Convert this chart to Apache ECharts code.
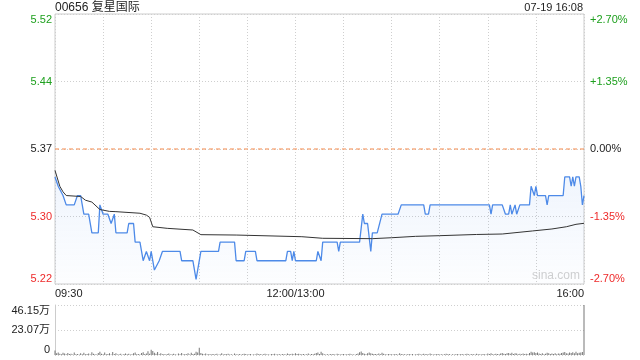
<!DOCTYPE html>
<html>
<head>
<meta charset="utf-8">
<script src="https://cdn.jsdelivr.net/npm/echarts@6/dist/echarts.min.js"></script>
<style>
html,body{margin:0;padding:0;background:#fff;}
#c{width:640px;height:360px;}
</style>
</head>
<body>
<div id="c"></div>
<script>
// ---- data ----
const titleText = '00656 复星国际';
const stampText = '07-19 16:08';
const prevClose = 5.37;

// minute index (0 = 09:30, 150 = 12:00/13:00, 330 = 16:00) and price
const priceMinute = [0,2,5,7,12,14,16,18,21,23,27,28,30,33,35,36,37,38,45,46,49,50,53,54,55,57,59,60,62,65,67,78,79,86,88,89,91,102,103,112,113,118,119,125,126,144,145,147,148,149,150,163,164,165,166,167,176,177,178,190,192,193,195,197,198,201,204,214,216,230,231,233,234,271,272,273,279,281,283,284,285,287,288,290,296,297,299,300,301,306,307,308,317,318,321,322,323,324,325,327,328,329,330];
const priceValue  = [5.34,5.33,5.32,5.31,5.31,5.32,5.32,5.30,5.30,5.28,5.28,5.31,5.30,5.30,5.29,5.29,5.30,5.28,5.28,5.29,5.29,5.27,5.27,5.26,5.25,5.26,5.25,5.26,5.24,5.25,5.26,5.26,5.25,5.25,5.23,5.23,5.26,5.26,5.27,5.27,5.25,5.25,5.26,5.26,5.25,5.25,5.26,5.26,5.25,5.26,5.25,5.25,5.26,5.26,5.25,5.27,5.27,5.26,5.27,5.27,5.30,5.29,5.29,5.26,5.28,5.28,5.30,5.30,5.31,5.31,5.30,5.30,5.31,5.31,5.30,5.31,5.31,5.30,5.30,5.31,5.30,5.31,5.30,5.31,5.31,5.33,5.32,5.33,5.32,5.32,5.31,5.32,5.32,5.34,5.34,5.33,5.34,5.33,5.34,5.34,5.33,5.31,5.32];

const avgMinute = [0,1,3,5,7,16,19,23,28,34,38,53,57,59,61,70,86,91,113,114,154,155,167,198,210,225,240,263,279,298,310,319,325,330];
const avgValue  = [5.347,5.345,5.330,5.324,5.320,5.319,5.315,5.313,5.305,5.303,5.3027,5.301,5.299,5.2966,5.2865,5.2848,5.283,5.278,5.2776,5.2762,5.2758,5.2747,5.2741,5.2737,5.2747,5.2762,5.2769,5.2782,5.2787,5.282,5.2841,5.2865,5.2891,5.2902];

// session span for the previous-close reference line
const sessionMinutes = [0, 330];

// volume per minute, in 万 shares (index 0..330)
const volume = [
4.2,1.5,2.3,1.1,0.8,2.0,1.4,0.6,1.8,0.9,
1.2,0.5,2.4,0.7,1.0,0.4,1.6,0.8,2.1,0.6,
0.9,1.3,0.5,2.6,1.1,0.7,0.4,1.9,3.1,1.2,
0.8,2.2,0.6,1.0,1.7,0.5,2.8,0.9,1.5,0.4,
0.7,1.1,0.3,0.9,1.4,0.6,1.2,0.5,0.8,1.6,
2.3,0.7,1.0,0.4,1.8,2.5,0.9,1.3,3.4,1.1,
4.8,3.6,2.0,1.2,2.7,0.8,1.5,0.6,1.0,0.5,
0.9,1.3,0.4,0.8,1.1,0.6,0.3,1.4,0.7,1.9,
0.5,1.0,0.8,1.6,0.4,2.1,0.9,1.2,3.0,2.2,
6.6,1.8,1.1,0.7,1.3,0.5,0.9,0.4,1.0,0.6,
0.8,1.2,0.3,0.7,1.5,0.4,0.9,0.6,1.1,0.5,
0.7,0.3,1.3,0.8,0.5,1.0,0.4,0.6,1.2,0.9,
0.4,0.7,1.0,0.3,0.8,0.5,1.4,0.6,0.9,0.4,
0.6,1.1,0.5,0.8,0.3,0.9,0.7,1.2,0.4,0.6,
0.8,0.5,1.0,0.7,0.4,1.3,0.9,0.6,1.1,0.8,
1.5,0.9,1.2,0.6,0.8,1.0,0.5,0.7,1.3,0.4,
0.9,0.6,1.1,1.8,2.4,1.0,2.9,1.6,0.7,0.5,
0.8,0.4,1.0,0.6,0.9,0.3,1.2,0.7,0.5,0.8,
1.0,0.4,0.7,0.6,1.1,0.5,0.8,0.3,0.9,1.4,
2.6,3.2,1.9,1.1,0.8,1.5,2.3,1.7,1.2,0.9,
1.0,0.6,1.4,0.8,2.0,1.1,0.7,0.5,0.9,0.6,
0.8,0.4,1.0,0.7,0.5,1.6,0.9,0.6,0.8,0.4,
0.7,1.0,0.5,0.9,0.3,0.8,0.6,1.1,0.4,0.7,
1.2,0.6,0.9,0.5,1.3,0.7,0.4,0.8,0.6,1.0,
0.5,0.8,0.4,0.7,1.1,0.6,0.9,0.3,0.8,0.5,
0.7,1.0,0.4,0.6,0.9,0.5,0.8,1.2,0.6,0.4,
0.9,0.7,0.5,1.1,0.6,0.8,0.4,1.0,0.7,0.5,
1.4,1.0,1.6,0.8,0.6,1.2,0.9,0.7,1.3,1.8,
1.1,0.9,1.5,1.9,1.2,2.0,1.0,1.7,1.3,0.8,
1.1,0.7,1.4,0.9,1.2,0.6,1.8,3.0,2.2,2.6,
1.9,2.4,1.3,1.0,1.6,0.8,1.2,2.1,1.5,0.9,
1.3,1.0,1.7,0.8,1.4,1.1,1.9,2.3,2.8,1.6,
1.4,2.2,1.8,2.5,1.7,2.9,1.5,2.0,2.4,2.7,
46.15
];

// tick labels
const priceTickLabels = ['5.22','5.30','5.37','5.44','5.52'];
const pctTickLabels = ['-2.70%','-1.35%','0.00%','+1.35%','+2.70%'];
const volTickLabels = ['0','23.07万','46.15万'];
const timeTickLabels = {0:'09:30',150:'12:00/13:00',330:'16:00'};

// ---- chart ----
const FONT = '"Liberation Sans", Arial, "Noto Sans CJK SC", sans-serif';
const GREEN = '#1ea01e', RED = '#ee2a2a', DARK = '#222';
const tickColors = [RED, RED, DARK, GREEN, GREEN];
const toBp = p => (p / prevClose - 1) * 10000;

const priceData = priceMinute.map((m, i) => [m, toBp(priceValue[i])]);
const avgData = avgMinute.map((m, i) => [m, toBp(avgValue[i])]);
const prevData = sessionMinutes.map(m => [m, toBp(prevClose)]);
const volData = volume.map((v, i) => [i, v]);

const chart = echarts.init(document.getElementById('c'), null, {renderer: 'canvas'});
const dotted = {color: '#cfcfcf', type: [1, 2], width: 1};

chart.setOption({
  animation: false,
  textStyle: {fontFamily: FONT},
  grid: [
    {left: 55, right: 56, top: 14, height: 270, show: true, borderColor: '#cccccc', borderWidth: 1, backgroundColor: 'transparent'},
    {left: 55, right: 56, top: 305, height: 50, show: false}
  ],
  xAxis: [
    {
      type: 'value', gridIndex: 0, min: 0, max: 330, interval: 30,
      axisLine: {show: false}, axisTick: {show: false},
      splitLine: {show: true, lineStyle: dotted},
      axisLabel: {
        show: true, margin: 4, fontSize: 11, color: '#222', fontFamily: FONT,
        showMinLabel: true, showMaxLabel: true,
        alignMinLabel: 'left', alignMaxLabel: 'right',
        formatter: v => timeTickLabels[v] || ''
      }
    },
    {
      type: 'value', gridIndex: 1, min: 0, max: 330, interval: 30,
      axisLine: {show: false}, axisTick: {show: false},
      splitLine: {show: false}, axisLabel: {show: false}
    }
  ],
  yAxis: [
    {
      type: 'value', gridIndex: 0, min: -270, max: 270, interval: 135, position: 'left',
      axisLine: {show: false}, axisTick: {show: false},
      splitLine: {show: true, lineStyle: dotted},
      axisLabel: {
        margin: 3, fontSize: 11, fontFamily: FONT,
        verticalAlignMinLabel: 'bottom', verticalAlignMaxLabel: 'top',
        formatter: (v, i) => priceTickLabels[i],
        color: (v, i) => tickColors[i]
      }
    },
    {
      type: 'value', gridIndex: 0, min: -270, max: 270, interval: 135, position: 'right',
      axisLine: {show: false}, axisTick: {show: false},
      splitLine: {show: false},
      axisLabel: {
        margin: 6, fontSize: 11, fontFamily: FONT,
        verticalAlignMinLabel: 'bottom', verticalAlignMaxLabel: 'top',
        formatter: (v, i) => pctTickLabels[i],
        color: (v, i) => tickColors[i]
      }
    },
    {
      type: 'value', gridIndex: 1, min: 0, max: 46.15, interval: 23.075, position: 'left',
      axisLine: {show: true, lineStyle: {color: '#cccccc'}}, axisTick: {show: false},
      splitLine: {show: true, lineStyle: dotted},
      axisLabel: {
        margin: 5, fontSize: 11, fontFamily: FONT, color: '#222',
        verticalAlignMinLabel: 'bottom', verticalAlignMaxLabel: 'top',
        formatter: (v, i) => volTickLabels[i]
      }
    }
  ],
  series: [
    {
      type: 'line', xAxisIndex: 0, yAxisIndex: 0, data: prevData,
      symbol: 'none', silent: true,
      lineStyle: {color: '#f5894a', type: [4, 3], width: 1}, z: 2
    },
    {
      type: 'line', xAxisIndex: 0, yAxisIndex: 0, data: priceData,
      symbol: 'none', smooth: false,
      lineStyle: {color: '#4d8ae8', width: 1.3},
      areaStyle: {
        origin: 'start',
        color: new echarts.graphic.LinearGradient(0, 0, 0, 1, [
          {offset: 0, color: 'rgba(77,138,232,0.12)'},
          {offset: 1, color: 'rgba(77,138,232,0.02)'}
        ])
      },
      z: 3
    },
    {
      type: 'line', xAxisIndex: 0, yAxisIndex: 0, data: avgData,
      symbol: 'none', lineStyle: {color: '#333', width: 1}, z: 4
    },
    {
      type: 'bar', xAxisIndex: 1, yAxisIndex: 2, data: volData,
      barWidth: 1, itemStyle: {color: '#777'}, z: 3
    }
  ],
  graphic: [
    {type: 'text', left: 55, top: 2, style: {text: titleText, fontSize: 12, fill: '#222', fontFamily: FONT}},
    {type: 'text', right: 57, top: 2, style: {text: stampText, fontSize: 11, fill: '#222', fontFamily: FONT, align: 'right'}},
    {type: 'text', left: 532, top: 270, style: {text: 'sina.com', fontSize: 12, fill: '#d0d0d0', fontFamily: FONT}}
  ]
});
</script>
</body>
</html>
